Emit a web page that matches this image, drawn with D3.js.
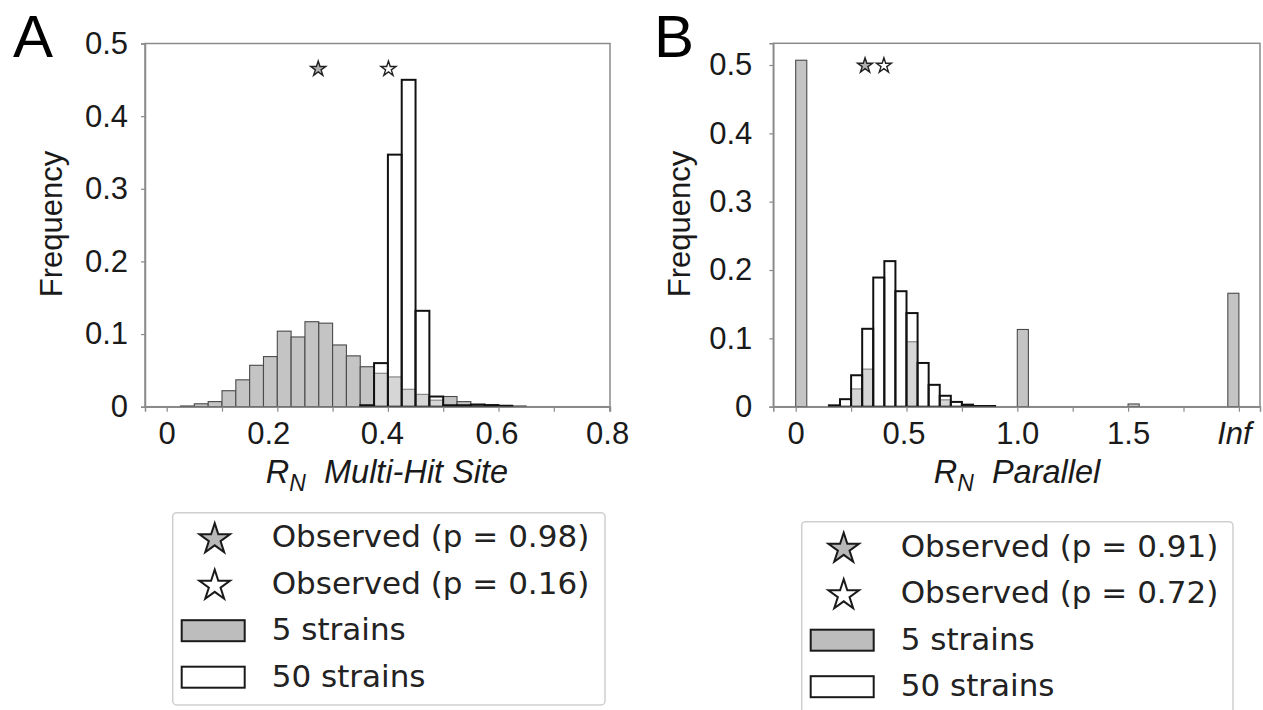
<!DOCTYPE html>
<html><head><meta charset="utf-8">
<script src="https://cdn.jsdelivr.net/npm/d3@7"></script>
<style>body{margin:0;background:#fff}svg{display:block}</style>
</head><body>
<svg id="c" width="1263" height="710"></svg>
<script>
// ---------- DATA ----------
// Panel A: R_N Multi-Hit Site, bin width 0.025 (lower bin edges)
const binWidthA = 0.025;
const grayEdgesA = [0.025,0.05,0.075,0.1,0.125,0.15,0.175,0.2,0.225,0.25,0.275,0.3,0.325,0.35,0.375,0.4,0.425,0.45,0.475,0.5,0.525,0.55,0.575,0.6,0.625];
const grayValsA  = [0.001,0.004,0.007,0.022,0.037,0.057,0.069,0.104,0.096,0.117,0.115,0.085,0.070,0.055,0.046,0.041,0.024,0.017,0.009,0.014,0.007,0.003,0.003,0.002,0.001];
const whiteEdgesA = [0.35,0.375,0.4,0.425,0.45,0.475,0.5,0.525,0.55,0.575,0.6];
const whiteValsA  = [0.002,0.060,0.347,0.450,0.132,0.014,0.002,0.002,0.003,0.002,0.001];
const starsA = [{x:0.274, y:0.465, kind:"gray"}, {x:0.401, y:0.465, kind:"white"}];
const xTicksA = [0,0.1,0.2,0.3,0.4,0.5,0.6,0.7,0.8];
const xLabelsA = {0:"0", 0.2:"0.2", 0.4:"0.4", 0.6:"0.6", 0.8:"0.8"};
const yTicksA = [0,0.1,0.2,0.3,0.4,0.5];
const legendA = ["Observed (p = 0.98)", "Observed (p = 0.16)", "5 strains", "50 strains"];

// Panel B: R_N Parallel, bin width 0.05 (Inf plotted at 2.0)
const binWidthB = 0.05;
const grayEdgesB = [0, 0.25, 0.3, 0.5, 0.65, 1.0, 1.5, 1.95];
const grayValsB  = [0.507, 0.026, 0.055, 0.095, 0.010, 0.113, 0.004, 0.166];
const whiteEdgesB = [0.15,0.2,0.25,0.3,0.35,0.4,0.45,0.5,0.55,0.6,0.65,0.7,0.75,0.8,0.85];
const whiteValsB  = [0.002,0.011,0.046,0.114,0.189,0.213,0.169,0.137,0.064,0.032,0.016,0.007,0.003,0.001,0.001];
const starsB = [{x:0.313, y:0.499, kind:"gray"}, {x:0.398, y:0.499, kind:"white"}];
const xTicksB = [0,0.25,0.5,0.75,1.0,1.25,1.5,1.75,2.0];
const xLabelsB = {0:"0", 0.5:"0.5", 1:"1.0", 1.5:"1.5", 2:"Inf"};
const yTicksB = [0,0.1,0.2,0.3,0.4,0.5];
const legendB = ["Observed (p = 0.91)", "Observed (p = 0.72)", "5 strains", "50 strains"];

// ---------- STYLE ----------
const GRAY = "#c4c4c4";
const FRAME = "#8a8a8a";
const TXT = "#1a1a1a";
const SANS = "'Liberation Sans', Arial, sans-serif";
const LEG = "'DejaVu Sans', sans-serif";

const svg = d3.select("#c");

function findLabel(map, d) {
  const k = Object.keys(map).find(k => Math.abs(+k - d) < 1e-9);
  return k !== undefined ? map[k] : "";
}

function panel(cfg) {
  const x = d3.scaleLinear().domain(cfg.xDomain).range([cfg.left, cfg.right]);
  const y = d3.scaleLinear().domain(cfg.yDomain).range([cfg.bottom, cfg.top]);
  const g = svg.append("g");

  // frame
  g.append("rect").attr("x", cfg.left).attr("y", cfg.top)
    .attr("width", cfg.right - cfg.left).attr("height", cfg.bottom - cfg.top)
    .attr("fill", "none").attr("stroke", FRAME).attr("stroke-width", 1.5);

  // gray bars (5 strains)
  g.selectAll(".g").data(cfg.grayEdges.map((e,i)=>({e, v:cfg.grayVals[i]}))).enter()
    .append("rect")
    .attr("x", d => x(d.e)).attr("width", d => x(d.e + cfg.bw) - x(d.e))
    .attr("y", d => y(d.v)).attr("height", d => y(0) - y(d.v))
    .attr("fill", GRAY).attr("stroke", "#4a4a4a").attr("stroke-width", 1.1);

  // white bars (50 strains)
  g.selectAll(".w").data(cfg.whiteEdges.map((e,i)=>({e, v:cfg.whiteVals[i]}))).enter()
    .append("rect")
    .attr("x", d => x(d.e)).attr("width", d => x(d.e + cfg.bw) - x(d.e))
    .attr("y", d => y(d.v)).attr("height", d => y(0) - y(d.v))
    .attr("fill", "#fff").attr("fill-opacity", 0.3)
    .attr("stroke", "#111").attr("stroke-width", 2);

  // x axis
  const xa = g.append("g").attr("transform", `translate(0,${cfg.bottom})`)
    .call(d3.axisBottom(x).tickValues(cfg.xTicks).tickSize(5).tickPadding(10)
      .tickFormat(d => findLabel(cfg.xLabels, d)));
  xa.select(".domain").attr("stroke", FRAME).attr("stroke-width", 1.5);
  xa.selectAll(".tick line").attr("stroke", FRAME).attr("stroke-width", 1.2);
  xa.selectAll(".tick text").attr("font-family", SANS).attr("font-size", 31).attr("fill", TXT)
    .attr("dx", d => findLabel(cfg.xLabelShift, d) || 0)
    .attr("font-style", d => findLabel(cfg.xLabels, d) === "Inf" ? "italic" : "normal");

  // y axis
  const ya = g.append("g").attr("transform", `translate(${cfg.left},0)`)
    .call(d3.axisLeft(y).tickValues(cfg.yTicks).tickSize(4).tickPadding(cfg.yPad)
      .tickFormat(d => d === 0 ? "0" : d3.format(".1f")(d)));
  ya.select(".domain").attr("stroke", FRAME).attr("stroke-width", 1.5);
  ya.selectAll(".tick line").attr("stroke", FRAME).attr("stroke-width", 1.2);
  ya.selectAll(".tick text").attr("font-family", SANS).attr("font-size", 31).attr("fill", TXT);

  // stars
  const starSmall = d3.symbol().type(d3.symbolStar).size(70);
  g.selectAll(".s").data(cfg.stars).enter().append("path")
    .attr("d", starSmall)
    .attr("transform", d => `translate(${x(d.x)},${y(d.y)})`)
    .attr("fill", d => d.kind === "gray" ? "#b0b0b0" : "#fff")
    .attr("stroke", "#222").attr("stroke-width", 1.4);

  // axis titles
  g.append("text").attr("transform", `translate(${cfg.ylabX},224) rotate(-90)`)
    .attr("text-anchor", "middle").attr("font-family", SANS).attr("font-size", 31).attr("fill", TXT)
    .text("Frequency");

  const t = g.append("text").attr("x", cfg.xlabX).attr("y", 483).attr("text-anchor", "middle")
    .attr("font-family", SANS).attr("font-size", 32.5).attr("font-style", "italic").attr("fill", TXT)
    .attr("xml:space", "preserve");
  t.append("tspan").text("R");
  t.append("tspan").attr("font-size", 23).attr("dy", 8).text("N");
  t.append("tspan").attr("dy", -8).text("\u00a0\u00a0" + cfg.xTitle);

  // panel letter
  svg.append("text").attr("x", cfg.letterX).attr("y", 57).attr("font-family", SANS)
    .attr("font-size", 60).attr("fill", "#000").text(cfg.letter);

  // legend
  const L = cfg.legend;
  svg.append("rect").attr("x", L.x).attr("y", L.y).attr("width", L.w).attr("height", L.h)
    .attr("rx", 4).attr("fill", "#fff").attr("stroke", "#cfcfcf").attr("stroke-width", 1.5);
  const starBig = d3.symbol().type(d3.symbolStar).size(290);
  cfg.legendLabels.forEach((lab, i) => {
    const base = L.y + L.base0 + i * L.dy;
    if (i < 2) {
      svg.append("path").attr("d", starBig)
        .attr("transform", `translate(${L.x + 42},${base - 8})`)
        .attr("fill", i === 0 ? "#b8b8b8" : "#fff").attr("stroke", "#1a1a1a").attr("stroke-width", 2);
    } else {
      svg.append("rect").attr("x", L.x + 9).attr("y", base - 20).attr("width", 63).attr("height", 21)
        .attr("fill", i === 2 ? "#bdbdbd" : "#fff").attr("stroke", "#1a1a1a").attr("stroke-width", 2);
    }
    svg.append("text").attr("x", L.x + 99).attr("y", base).attr("font-family", LEG)
      .attr("font-size", 31).attr("fill", "#222").text(lab);
  });
}

// pixel geometry of the two panels
panel({
  letter: "A", letterX: 13,
  left: 145, right: 610, top: 43.5, bottom: 406.7,
  xDomain: [(145-166.7)/553, (610-166.7)/553], yDomain: [0, 0.5],
  bw: binWidthA, grayEdges: grayEdgesA, grayVals: grayValsA, whiteEdges: whiteEdgesA, whiteVals: whiteValsA,
  stars: starsA, xTicks: xTicksA, xLabels: xLabelsA, xLabelShift: {0.2:-9, 0.4:-6, 0.6:-2, 0.8:-2},
  yTicks: yTicksA, yPad: 13,
  ylabX: 62, xlabX: 387, xTitle: "Multi-Hit Site",
  legend: {x: 172.7, y: 512.7, w: 432.3, h: 192.3, base0: 34.5, dy: 46.5},
  legendLabels: legendA
});
panel({
  letter: "B", letterX: 654,
  left: 773.3, right: 1260, top: 43.3, bottom: 406.7,
  xDomain: [(773.3-795.7)/221.6, (1260-795.7)/221.6], yDomain: [0, (406.7-43.3)/683.4],
  bw: binWidthB, grayEdges: grayEdgesB, grayVals: grayValsB, whiteEdges: whiteEdgesB, whiteVals: whiteValsB,
  stars: starsB, xTicks: xTicksB, xLabels: xLabelsB, xLabelShift: {0.5:-3, 2:-5},
  yTicks: yTicksB, yPad: 17,
  ylabX: 690, xlabX: 1017, xTitle: "Parallel",
  legend: {x: 801.7, y: 521.7, w: 431.3, h: 200, base0: 35, dy: 46.5},
  legendLabels: legendB
});
</script>
</body></html>
